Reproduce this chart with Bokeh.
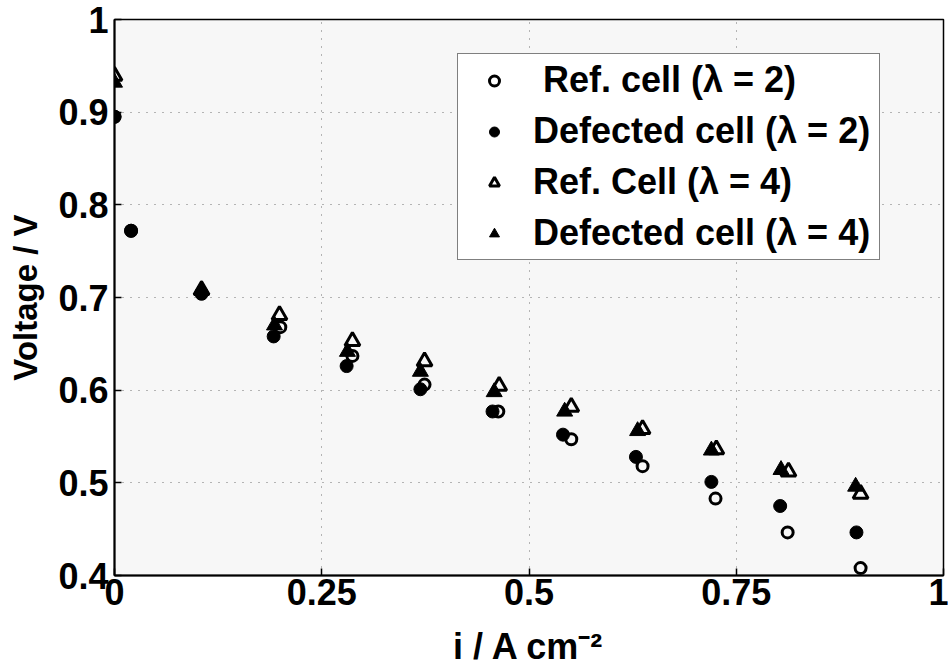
from bokeh.plotting import figure
from bokeh.models import FixedTicker, Legend, LegendItem
from bokeh.embed import file_html
from bokeh.resources import INLINE

# ---- data ----
ref2_x = [0.0, 0.02, 0.105, 0.200, 0.287, 0.374, 0.463, 0.551, 0.637, 0.725, 0.812, 0.900]
ref2_y = [0.895, 0.772, 0.705, 0.668, 0.637, 0.606, 0.577, 0.547, 0.518, 0.483, 0.4465, 0.408]
def2_x = [0.0, 0.02, 0.105, 0.192, 0.280, 0.369, 0.456, 0.541, 0.629, 0.720, 0.803, 0.895]
def2_y = [0.895, 0.772, 0.704, 0.658, 0.626, 0.601, 0.577, 0.552, 0.528, 0.501, 0.475, 0.4465]
ref4_x = [0.0, 0.105, 0.199, 0.287, 0.374, 0.464, 0.551, 0.637, 0.726, 0.813, 0.900]
ref4_y = [0.939, 0.708, 0.681, 0.653, 0.631, 0.6045, 0.582, 0.558, 0.536, 0.512, 0.488]
def4_x = [0.0, 0.105, 0.193, 0.281, 0.369, 0.458, 0.543, 0.631, 0.720, 0.804, 0.894]
def4_y = [0.932, 0.708, 0.670, 0.6415, 0.620, 0.598, 0.577, 0.556, 0.535, 0.514, 0.496]

labels = [" Ref. cell (\u03bb = 2)", "Defected cell (\u03bb = 2)",
          "Ref. Cell (\u03bb = 4)", "Defected cell (\u03bb = 4)"]
x_ticks = [0, 0.25, 0.5, 0.75, 1]
x_tick_labels = ["0", "0.25", "0.5", "0.75", "1"]
y_ticks = [0.4, 0.5, 0.6, 0.7, 0.8, 0.9, 1.0]
y_tick_labels = ["0.4", "0.5", "0.6", "0.7", "0.8", "0.9", "1"]
x_title = "i / A cm\u207b\u00b2"
y_title = "Voltage / V"

FONT = "Liberation Sans"

p = figure(width=948, height=669, x_range=(0, 1), y_range=(0.4, 1),
           output_backend="svg", toolbar_location=None,
           min_border_left=114, min_border_right=5, min_border_top=19,
           min_border_bottom=93,
           background_fill_color="#f7f7f7", border_fill_color="white")

p.outline_line_color = "black"
p.outline_line_width = 1.5

for ax in (p.xaxis[0], p.yaxis[0]):
    ax.major_label_text_font = FONT
    ax.major_label_text_font_style = "bold"
    ax.major_label_text_font_size = "36px"
    ax.major_label_text_color = "black"
    ax.axis_line_color = "black"
    ax.axis_line_width = 2
    ax.major_tick_in = 7
    ax.major_tick_out = 0
    ax.major_tick_line_color = "black"
    ax.major_tick_line_width = 1.5
    ax.minor_tick_line_color = None
    ax.axis_label_text_font = FONT
    ax.axis_label_text_font_style = "bold"
    ax.axis_label_text_color = "black"

p.xaxis.ticker = FixedTicker(ticks=x_ticks)
p.xaxis.major_label_overrides = {t: l for t, l in zip(x_ticks, x_tick_labels)}
p.xaxis.major_label_standoff = 3
p.xaxis.axis_label = x_title
p.xaxis.axis_label_text_font_size = "36px"
p.xaxis.axis_label_text_line_height = 1.0
p.xaxis.axis_label_standoff = 18

p.yaxis.ticker = FixedTicker(ticks=y_ticks)
p.yaxis.major_label_overrides = {t: l for t, l in zip(y_ticks, y_tick_labels)}
p.yaxis.major_label_standoff = 6
p.yaxis.axis_label = y_title
p.yaxis.axis_label_text_font_size = "33px"
p.yaxis.axis_label_standoff = 11

for g in (p.xgrid[0], p.ygrid[0]):
    g.grid_line_color = "#707070"
    g.grid_line_dash = "1 7"
    g.grid_line_width = 1

# ---- series ----
r_def2 = p.scatter(def2_x, def2_y, marker="circle", size=13,
                   fill_color="black", line_color="black", line_width=1)
r_def4 = p.scatter(def4_x, def4_y, marker="triangle", size=16,
                   fill_color="black", line_color="black", line_width=1)
r_ref2 = p.scatter(ref2_x, ref2_y, marker="circle", size=11,
                   fill_color=None, line_color="black", line_width=3)
r_ref4 = p.scatter(ref4_x, ref4_y, marker="triangle", size=15,
                   fill_color=None, line_color="black", line_width=3)

legend = Legend(items=[LegendItem(label=labels[0], renderers=[r_ref2]),
                       LegendItem(label=labels[1], renderers=[r_def2]),
                       LegendItem(label=labels[2], renderers=[r_ref4]),
                       LegendItem(label=labels[3], renderers=[r_def4])],
                location=(343, 315))
legend.label_text_font = FONT
legend.label_text_font_style = "bold"
legend.label_text_font_size = "36px"
legend.label_text_color = "black"
legend.border_line_color = "black"
legend.border_line_width = 1.5
legend.background_fill_color = "white"
legend.background_fill_alpha = 1
legend.padding = 2
legend.spacing = 3
legend.label_height = 48
legend.glyph_height = 25
legend.glyph_width = 68
legend.label_standoff = 5
legend.label_width = 344
legend.margin = 0
p.add_layout(legend)

open("out.html", "w").write(file_html(p, INLINE))
